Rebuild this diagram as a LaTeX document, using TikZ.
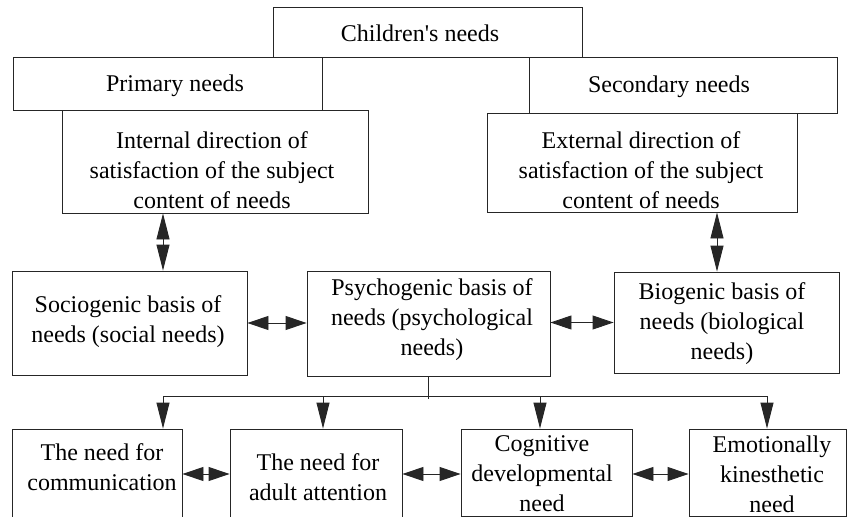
\documentclass[tikz,border=0pt]{standalone}
\usepackage{fontspec}
\newfontfamily\tnr{Liberation Serif}
\usetikzlibrary{arrows.meta}
\begin{document}
\begin{tikzpicture}[x=1pt,y=-1pt,
  box/.style={draw=black!85, line width=0.9pt, rectangle, inner sep=0pt},
  txt/.style={align=center, font=\tnr\fontsize{24}{30}\selectfont, inner sep=0pt},
  conn/.style={draw=black!85, line width=0.9pt},
  harr/.style={conn, {Triangle[length=21pt,width=14pt]}-{Triangle[length=21pt,width=14pt]}},
  varr/.style={conn, {Triangle[length=26pt,width=13pt]}-{Triangle[length=26pt,width=13pt]}},
  darr/.style={conn, -{Triangle[length=26pt,width=13pt]}}]
\useasboundingbox (0,0) rectangle (847,517);
\clip (0,0) rectangle (847,517);
% boxes
\node[box, minimum width=309pt, minimum height=50pt] (children) at (427.5,32) {};
\node[box, minimum width=309pt, minimum height=53pt] (primary) at (167.5,83.5) {};
\node[box, minimum width=308pt, minimum height=56pt] (secondary) at (683,85) {};
\node[box, minimum width=306pt, minimum height=103pt] (internal) at (215,161.5) {};
\node[box, minimum width=310pt, minimum height=99pt] (external) at (642,162.5) {};
\node[box, minimum width=235pt, minimum height=104pt] (socio) at (129.5,323) {};
\node[box, minimum width=243pt, minimum height=105pt] (psycho) at (428.5,323.5) {};
\node[box, minimum width=225pt, minimum height=101pt] (bio) at (726.5,322.5) {};
\node[box, minimum width=170pt, minimum height=131pt] (b1) at (97,494.5) {};
\node[box, minimum width=172pt, minimum height=131pt] (b2) at (316,494.5) {};
\node[box, minimum width=171pt, minimum height=87pt] (b3) at (546.5,472.5) {};
\node[box, minimum width=157pt, minimum height=87pt] (b4) at (767.5,472.5) {};
% texts
\node[txt] (childrenT) at (420,33) {Children's needs};
\node[txt] (primaryT) at (175,86) {Primary needs};
\node[txt] (secondaryT) at (669,87) {Secondary needs};
\node[txt] (internalT) at (212,170) {Internal direction of\\satisfaction of the subject\\content of needs};
\node[txt] (externalT) at (641,170) {External direction of\\satisfaction of the subject\\content of needs};
\node[txt] (socioT) at (128,322) {Sociogenic basis of\\needs (social needs)};
\node[txt] (psychoT) at (432,320) {Psychogenic basis of\\needs (psychological\\needs)};
\node[txt] (bioT) at (722,324) {Biogenic basis of\\needs (biological\\needs)};
\node[txt] (b1T) at (102,467) {The need for\\communication};
\node[txt] (b2T) at (318,477) {The need for\\adult attention};
\node[txt] (b3T) at (542,474) {Cognitive\\developmental\\need};
\node[txt] (b4T) at (772,474) {Emotionally\\kinesthetic\\need};
% connectors
\coordinate (cL) at (163,396);
\coordinate (c2) at (323,396);
\coordinate (c3) at (540,396);
\coordinate (cR) at (767,396);
\coordinate (cE) at (717,0);
\coordinate (hy) at (0,474);
\draw[varr] (internal.south -| cL) -- (socio.north -| cL);
\draw[varr] (external.south -| cE) -- (bio.north -| cE);
\draw[harr] (socio.east) -- (psycho.west |- socio.east);
\draw[harr] (psycho.east |- bio.west) -- (bio.west);
\draw[conn] (psycho.south) -- ++(0,23);
\draw[conn] (cL) -- (cR);
\draw[darr] (cL) -- (b1.north -| cL);
\draw[darr] (c2) -- (b2.north -| c2);
\draw[darr] (c3) -- (b3.north -| c3);
\draw[darr] (cR) -- (b4.north -| cR);
\draw[harr] (b1.east |- hy) -- (b2.west |- hy);
\draw[harr] (b2.east |- hy) -- (b3.west |- hy);
\draw[harr] (b3.east |- hy) -- (b4.west |- hy);
\end{tikzpicture}
\end{document}
